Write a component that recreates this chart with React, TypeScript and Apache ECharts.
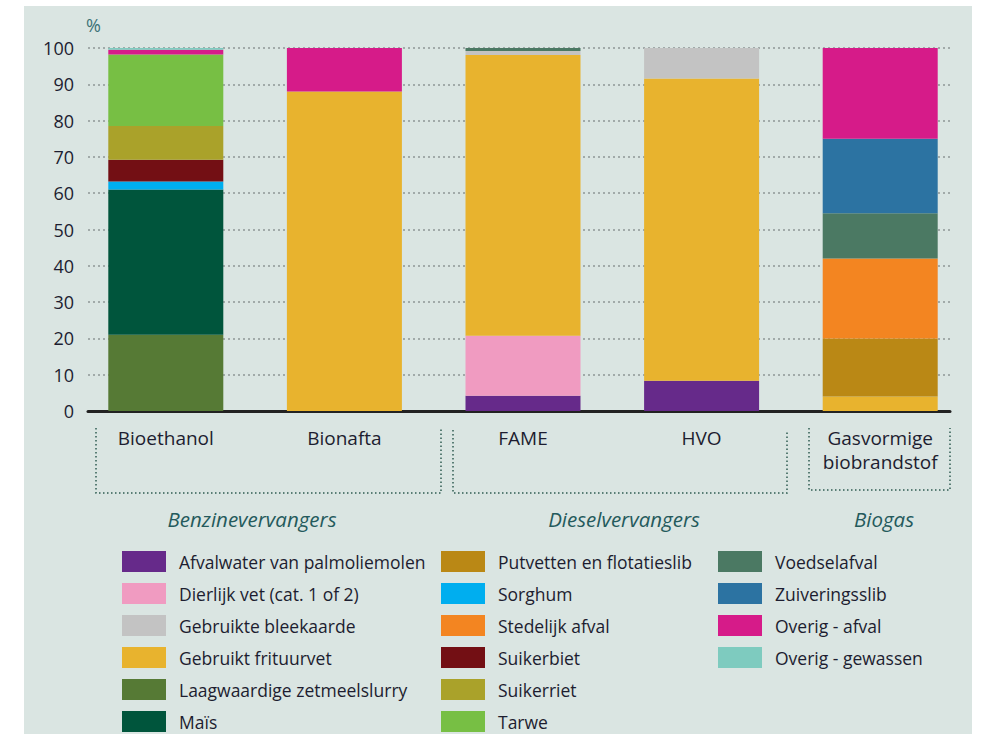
import React, { useEffect, useRef } from "react";
import * as echarts from "echarts";

const categories = ["Bioethanol", "Bionafta", "FAME", "HVO", "Gasvormige\nbiobrandstof"];
const groupLabels = ["Benzinevervangers", "Dieselvervangers", "Biogas"];
const yTicks = { min: 0, max: 100, interval: 10 };

const seriesNames = [
  "Afvalwater van palmoliemolen",
  "Dierlijk vet (cat. 1 of 2)",
  "Laagwaardige zetmeelslurry",
  "Maïs",
  "Sorghum",
  "Suikerbiet",
  "Suikerriet",
  "Tarwe",
  "Gebruikt frituurvet",
  "Putvetten en flotatieslib",
  "Stedelijk afval",
  "Gebruikte bleekaarde",
  "Voedselafval",
  "Zuiveringsslib",
  "Overig - afval",
  "Overig - gewassen",
];

// values per category: Bioethanol, Bionafta, FAME, HVO, Gasvormige biobrandstof
const afvalwater = [0, 0, 4.2, 8.3, 0];
const dierlijkVet = [0, 0, 16.5, 0, 0];
const laagwaardige = [21, 0, 0, 0, 0];
const mais = [40, 0, 0, 0, 0];
const sorghum = [2.2, 0, 0, 0, 0];
const suikerbiet = [6, 0, 0, 0, 0];
const suikerriet = [9.3, 0, 0, 0, 0];
const tarwe = [19.7, 0, 0, 0, 0];
const frituurvet = [0, 88, 77.4, 83.3, 4];
const putvetten = [0, 0, 0, 0, 16];
const stedelijk = [0, 0, 0, 0, 22];
const bleekaarde = [0, 0, 1.1, 8.4, 0];
const voedselafval = [0, 0, 0.8, 0, 12.5];
const zuiveringsslib = [0, 0, 0, 0, 20.5];
const overigAfval = [1.3, 12, 0, 0, 25];
const overigGewassen = [0.5, 0, 0, 0, 0];

const seriesValues = [
  afvalwater, dierlijkVet, laagwaardige, mais, sorghum, suikerbiet, suikerriet, tarwe,
  frituurvet, putvetten, stedelijk, bleekaarde, voedselafval, zuiveringsslib, overigAfval, overigGewassen,
];

const seriesColors = [
  "#662a8a", "#f09bc1", "#567a35", "#00553c", "#00aeef", "#730f14", "#aaa22a", "#77bf44",
  "#e8b32e", "#ba8815", "#f38521", "#c3c3c3", "#4b7963", "#2c73a2", "#d61b89", "#7ecbbf",
];

const legendCol1 = [
  "Afvalwater van palmoliemolen",
  "Dierlijk vet (cat. 1 of 2)",
  "Gebruikte bleekaarde",
  "Gebruikt frituurvet",
  "Laagwaardige zetmeelslurry",
  "Maïs",
];
const legendCol2 = [
  "Putvetten en flotatieslib",
  "Sorghum",
  "Stedelijk afval",
  "Suikerbiet",
  "Suikerriet",
  "Tarwe",
];
const legendCol3 = ["Voedselafval", "Zuiveringsslib", "Overig - afval", "Overig - gewassen"];

const FONT = "Open Sans";
const TEXT = "#1d1d30";
const TEAL = "#245a5c";

function dottedBox(x1: number, x2: number, top: number, bottom: number) {
  return {
    type: "polyline",
    silent: true,
    shape: { points: [[x1, top], [x1, bottom], [x2, bottom], [x2, top]] },
    style: { stroke: "#2f5c52", lineWidth: 1.5, lineDash: [1.5, 2.5], fill: null },
  };
}

function groupText(text: string, x: number) {
  return {
    type: "text",
    x,
    y: 519,
    style: { text, fontFamily: FONT, fontSize: 20.5, fontStyle: "italic", fill: TEAL, align: "center", verticalAlign: "middle" },
  };
}

export default function App() {
  const ref = useRef<HTMLDivElement>(null);
  useEffect(() => {
    if (!ref.current) return;
    const chart = echarts.init(ref.current, null, { renderer: "svg" });
    const legendBase = {
      orient: "vertical",
      top: 551,
      height: 260,
      padding: 0,
      itemWidth: 44,
      itemHeight: 21,
      itemGap: 11,
      icon: "rect",
      selectedMode: false,
      textStyle: { fontFamily: FONT, fontSize: 17.5, color: TEXT, padding: [0, 0, 0, 8] },
    };
    chart.setOption({
      animation: false,
      backgroundColor: "#ffffff",
      grid: [
        { left: 76.5, width: 893, top: 48, height: 363 },
        { left: 88, width: 862, top: 48, height: 363 },
      ],
      xAxis: [
        {
          type: "category",
          gridIndex: 0,
          data: categories,
          axisLine: { show: false },
          axisTick: { show: false },
          axisLabel: {
            margin: 15,
            fontFamily: FONT,
            fontSize: 19,
            color: TEXT,
            lineHeight: 24,
            verticalAlign: "top",
          },
        },
        {
          type: "value",
          gridIndex: 1,
          min: 0,
          max: 1,
          axisLine: { show: true, lineStyle: { color: "#222222", width: 3 } },
          axisTick: { show: false },
          axisLabel: { show: false },
          splitLine: { show: false },
        },
      ],
      yAxis: [
        { type: "value", gridIndex: 0, ...yTicks, show: false },
        {
          type: "value",
          gridIndex: 1,
          ...yTicks,
          axisLine: { show: false },
          axisTick: { show: false },
          axisLabel: { margin: 14, fontFamily: FONT, fontSize: 18, color: TEXT },
          splitLine: { show: true, lineStyle: { color: "#8f9696", width: 1.5, type: [2, 3] } },
        },
      ],
      legend: [
        { ...legendBase, left: 122, data: legendCol1 },
        { ...legendBase, left: 441, data: legendCol2 },
        { ...legendBase, left: 718, data: legendCol3 },
      ],
      graphic: [
        {
          type: "rect",
          z: -100,
          silent: true,
          shape: { x: 24, y: 6, width: 948, height: 728 },
          style: { fill: "#dae5e2" },
        },
        {
          type: "text",
          x: 86,
          y: 25,
          style: { text: "%", fontFamily: FONT, fontSize: 18, fill: "#3d7276", verticalAlign: "middle" },
        },
        dottedBox(96, 441, 428, 493),
        dottedBox(453, 787, 430, 493),
        dottedBox(809, 950, 428, 490),
        groupText(groupLabels[0], 252),
        groupText(groupLabels[1], 624),
        groupText(groupLabels[2], 884),
      ],
      series: seriesNames.map((name, i) => ({
        name,
        type: "bar",
        stack: "total",
        xAxisIndex: 0,
        yAxisIndex: 0,
        barWidth: 115,
        data: seriesValues[i],
        itemStyle: { color: seriesColors[i] },
        emphasis: { disabled: true },
      })),
    });
    return () => chart.dispose();
  }, []);
  return (
    <div style={{ position: "absolute", left: 0, top: 0, width: 993, height: 734, background: "#ffffff" }}>
      <div ref={ref} style={{ width: 993, height: 734 }} />
    </div>
  );
}
